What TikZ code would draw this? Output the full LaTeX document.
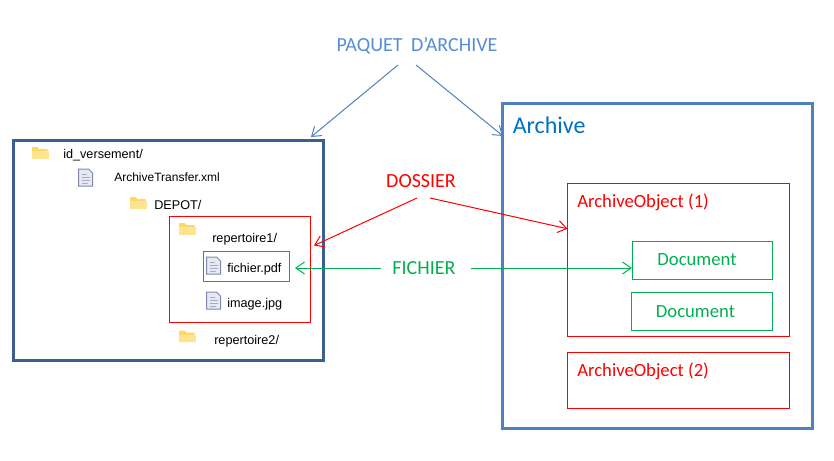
\documentclass[tikz,border=0pt]{standalone}
\usepackage{fontspec}
\setmainfont{Carlito}
\newfontfamily\filefont{Liberation Sans}
\usepackage{tikz}
\usetikzlibrary{arrows.meta, positioning, calc}
\def\px{0.75pt}
\definecolor{darkframe}{HTML}{3B5F8F}
\definecolor{midframe}{HTML}{4F81BD}
\definecolor{paquetblue}{HTML}{558ED5}
\definecolor{archiveblue}{HTML}{0070C0}
\definecolor{docgreen}{HTML}{00B050}
\definecolor{folderfill}{HTML}{FFD766}
\definecolor{folderfront}{HTML}{FFE48F}
\definecolor{paperfill}{HTML}{E6E8F2}
\definecolor{paperline}{HTML}{8088B0}

\begin{document}
\begin{tikzpicture}[
	x=0.75pt, y=-0.75pt,
	box/.style={draw, inner sep=0pt, outer sep=0pt},
	bigframe/.style={box, line width=2.25pt},
	redbox/.style={box, red, line width=0.75pt},
	greenbox/.style={box, docgreen, line width=0.75pt},
	filelabel/.style={anchor=west, inner sep=0pt, font=\filefont\fontsize{9.5}{11}\selectfont},
	tag/.style={inner sep=0pt, font=\fontsize{15}{18}\selectfont},
	inlabel/.style={anchor=west, inner sep=0pt, red, font=\fontsize{14}{17}\selectfont},
	doclabel/.style={inner sep=0pt, docgreen, font=\fontsize{14}{17}\selectfont},
	arrow/.style={-{Straight Barb[length=6.5pt, width=9pt]}, line width=0.75pt},
	folder/.pic={
		\fill[folderfill] (-8.5,5.5) -- (-8.5,-6) -- (-3,-6) -- (-1,-4) -- (7,-4) -- (7,5.5) -- cycle;
		\fill[folderfront] (-8.5,5.5) -- (-8.5,-2) -- (8.5,-2) -- (8.5,5.5) -- cycle;
	},
	docicon/.pic={
		\draw[paperline, fill=paperfill, line width=0.75pt] (-7,-8.5) -- (3,-8.5) -- (7,-4.5) -- (7,8.5) -- (-7,8.5) -- cycle;
		\draw[paperline!70, line width=0.5pt] (-4,-3) -- (1,-3) (-4,0) -- (4,0) (-4,3) -- (4,3) (-4,6) -- (2,6);
	}
]
\useasboundingbox (0,0) rectangle (834,460);

% Frames
\node[bigframe, darkframe, minimum width=310*\px, minimum height=220*\px] (versement) at (168,250) {};
\node[bigframe, midframe, minimum width=310*\px, minimum height=325*\px] (archive) at (657,265.5) {};
\node[redbox, minimum width=141*\px, minimum height=106*\px] (repertoire) at (240,269.5) {};
\node[greenbox, minimum width=86*\px, minimum height=30*\px] (fichierbox) at (246.5,266.5) {};
\node[redbox, minimum width=222*\px, minimum height=152.5*\px] (objectone) at (678.5,259.75) {};
\node[redbox, minimum width=222*\px, minimum height=55.5*\px] (objecttwo) at (678.5,380.25) {};
\node[greenbox, minimum width=140.5*\px, minimum height=38*\px] (docone) at (702.25,260.5) {};
\node[greenbox, minimum width=141*\px, minimum height=38*\px] (doctwo) at (702,311) {};

% Tree
\pic at (40.5,153) {folder};
\pic at (85.5,177.5) {docicon};
\pic at (138.5,203) {folder};
\pic at (187.5,229) {folder};
\pic at (213.5,265.5) {docicon};
\pic at (213.5,300.5) {docicon};
\pic at (187.5,336.5) {folder};
\node[filelabel] (idversement) at (63,155) {id\_versement/};
\node[filelabel, font=\filefont\fontsize{9}{11}\selectfont] (transfer) at (114,177) {ArchiveTransfer.xml};
\node[filelabel] (depot) at (154,205) {DEPOT/};
\node[filelabel] (repone) at (212,239) {repertoire1/};
\node[filelabel] (fichier) at (227,269) {fichier.pdf};
\node[filelabel] (image) at (227,304) {image.jpg};
\node[filelabel] (reptwo) at (214,341) {repertoire2/};

% Labels
\node[tag, paquetblue] (paquet) at (417,46) {PAQUET\hspace{3pt} D’ARCHIVE};
\node[tag, red] (dossier) at (421,181) {DOSSIER};
\node[tag, docgreen] (fichiertag) at (424,268) {FICHIER};
\node[anchor=west, inner sep=0pt, archiveblue, font=\fontsize{18}{22}\selectfont] (archivetag) at (512.5,125.5) {Archive};
\node[inlabel] (objectonetag) at (577,202.5) {ArchiveObject (1)};
\node[inlabel] (objecttwotag) at (577,371.5) {ArchiveObject (2)};
\node[doclabel] (doconetag) at (697,259.5) {Document};
\node[doclabel] (doctwotag) at (695.5,311.5) {Document};

% Edges
\draw[arrow, midframe] ([shift={(-19,19)}]paquet.center) -- ([shift={(-12,-3)}]versement.north east);
\draw[arrow, midframe] ([shift={(-1,19)}]paquet.center) -- ([shift={(1,33)}]archive.north west);
\draw[arrow, red] ([shift={(-4,17)}]dossier.center) -- ([shift={(3.5,29)}]repertoire.north east);
\draw[arrow, red] ([shift={(9,17)}]dossier.center) -- ([shift={(0,-31)}]objectone.west);
\draw[arrow, docgreen] ([shift={(-43,0)}]fichiertag.center) -- ([shift={(5.5,1.5)}]fichierbox.east);
\draw[arrow, docgreen] ([shift={(47,0)}]fichiertag.center) -- ([shift={(0,7.5)}]docone.west);

\end{tikzpicture}
\end{document}
